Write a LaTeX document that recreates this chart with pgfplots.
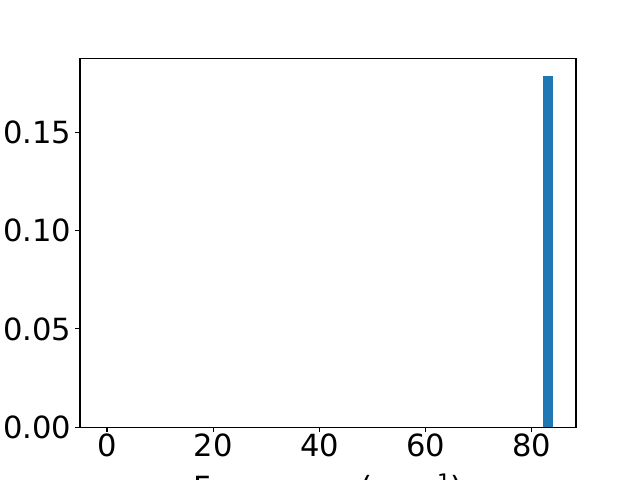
\documentclass[border=0pt]{standalone}
\usepackage{fontspec}
\setmainfont{DejaVu Sans}
\usepackage{pgfplots}
\pgfplotsset{compat=1.18}
\definecolor{mplblue}{RGB}{31,119,180}
\begin{document}
\fontsize{22}{26}\selectfont
\begin{tikzpicture}
\clip (0,0) rectangle (460.8pt,345.6pt);
\path[use as bounding box] (0,0) rectangle (460.8pt,345.6pt);
\begin{axis}[
  at={(57.6pt,38.016pt)}, anchor=south west,
  scale only axis, width=357.12pt, height=265.68pt,
  xmin=-5.08, xmax=88.3, ymin=0, ymax=0.1877,
  xtick={0,20,40,60,80},
  ytick={0,0.05,0.10,0.15},
  tick align=outside, major tick length=3.5pt,
  xtick pos=bottom, ytick pos=left,
  axis line style={line width=0.8pt},
  every tick/.style={black, line width=0.8pt},
  /pgf/number format/assume math mode=true,
  yticklabel style={/pgf/number format/fixed, /pgf/number format/fixed zerofill, /pgf/number format/precision=2, inner sep=0pt, xshift=-2.5pt},
  xticklabel style={inner sep=0pt, yshift=-1pt},
  tick label style={font=\fontsize{22}{26}\selectfont},
  xlabel={Frequency (cm\raisebox{0.3em}{\fontsize{15.4}{16}\selectfont −1})},
  xlabel style={at={(axis description cs:0.5,0)}, anchor=base, yshift=-51.1pt, inner sep=0pt, font=\fontsize{22}{26}\selectfont},
]
\addplot[ybar interval, fill=mplblue, draw=none] coordinates {(82.07,0.1788) (83.95,0.1788)};
\end{axis}
\end{tikzpicture}
\end{document}
